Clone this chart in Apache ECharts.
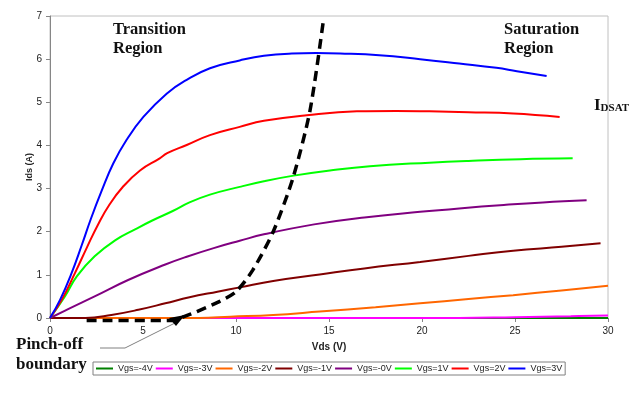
<!DOCTYPE html>
<html>
<head>
<meta charset="utf-8">
<script src="https://cdn.jsdelivr.net/npm/echarts@6/dist/echarts.min.js"></script>
<style>html,body{margin:0;padding:0;background:#fff}#c{width:640px;height:394px}</style>
</head>
<body>
<div id="c"></div>
<script>
// ---- data (Vds [V], Ids [A]) ----
const seriesNames = ['Vgs=-4V','Vgs=-3V','Vgs=-2V','Vgs=-1V','Vgs=-0V','Vgs=1V','Vgs=2V','Vgs=3V'];
const vgsM4 = [[0,0],[30,0]];
const vgsM3 = [[0,0],[22,0],[25,0.02],[28,0.04],[30,0.06]];
const vgsM2 = [[0,0],[8,0],[9.7,0.03],[12,0.07],[14.5,0.15],[17.5,0.25],[19.9,0.34],[22.5,0.44],[24.9,0.53],[27.5,0.64],[30,0.75]];
const vgsM1 = [[0,0],[1.9,0],[3.3,0.07],[4.75,0.19],[6.2,0.34],[7.5,0.48],[9.0,0.61],[10.2,0.71],[12,0.86],[14.5,1.01],[16.9,1.15],[19.9,1.3],[22.5,1.44],[24.9,1.56],[27.5,1.65],[29.6,1.73]];
const vgs0 = [[0,0],[1.0,0.21],[2.4,0.5],[4.2,0.88],[6.2,1.24],[7.35,1.42],[8.8,1.62],[10.2,1.79],[11.5,1.94],[14.2,2.17],[16.9,2.33],[19.9,2.46],[22,2.54],[24.4,2.62],[26.5,2.68],[28.85,2.73]];
const vgs1 = [[0,0],[0.8,0.5],[1.45,0.97],[2.4,1.43],[3.5,1.8],[4.6,2.06],[5.5,2.26],[6.6,2.48],[7.5,2.68],[8.6,2.86],[10.2,3.04],[11.5,3.17],[13.1,3.3],[15.05,3.42],[17.2,3.52],[20.4,3.6],[22.5,3.64],[25.3,3.68],[28.1,3.7]];
const vgs2 = [[0,0],[0.63,0.42],[1.34,1.04],[2.0,1.65],[2.6,2.18],[3.2,2.63],[3.9,3.03],[4.84,3.42],[5.9,3.7],[6.3,3.82],[7.35,4.01],[8.6,4.24],[10.2,4.43],[11.5,4.57],[13.8,4.7],[16.5,4.79],[18.6,4.8],[20.4,4.79],[22.5,4.77],[24.9,4.74],[27.4,4.66]];
const vgs3 = [[0,0],[0.54,0.42],[1.16,1.04],[1.7,1.68],[2.2,2.3],[2.78,2.95],[3.4,3.58],[4.12,4.13],[5.02,4.66],[6.27,5.2],[7.35,5.52],[8.6,5.79],[10.2,5.97],[11.5,6.08],[13,6.13],[14.3,6.14],[15.6,6.13],[17.7,6.09],[19.9,6.0],[22,5.9],[24,5.8],[25.1,5.72],[26.7,5.61]];
const pinchOff = [[1.97,-0.06],[6.7,-0.06],[7.2,0.03],[7.9,0.15],[9.1,0.38],[10.0,0.61],[10.9,1.11],[12.0,2.0],[13.08,3.27],[13.98,4.81],[14.7,6.9]];
const xTicks = {min:0, max:30, interval:5};
const yTicks = {min:0, max:7, interval:1};

const seriesData = [vgsM4, vgsM3, vgsM2, vgsM1, vgs0, vgs1, vgs2, vgs3];
const colors = ['#008000','#ff00ff','#ff6600','#800000','#800080','#00ff00','#ff0000','#0000ff'];

const chart = echarts.init(document.getElementById('c'), null, {renderer:'canvas'});
const series = seriesNames.map((n,i)=>({
  name:n, type:'line', data:seriesData[i], symbol:'none', smooth:0.45,
  lineStyle:{color:colors[i], width:2}, itemStyle:{color:colors[i]}, z:2+i, animation:false
}));
series.push({
  name:'pinch', type:'line', data:pinchOff, symbol:'none', smooth:0.25, clip:false,
  lineStyle:{color:'#000', width:3.5, type:[10,6]}, z:20, animation:false
});

const serif = '"Liberation Serif","DejaVu Serif",serif';
chart.setOption({
  animation:false,
  grid:{left:50, right:32, top:16, bottom:76, show:true, borderColor:'#c0c0c0', borderWidth:1, containLabel:false},
  xAxis:{type:'value', min:xTicks.min, max:xTicks.max, interval:xTicks.interval,
    name:'Vds (V)', nameLocation:'middle', nameGap:24, nameMoveOverlap:false,
    nameTextStyle:{fontFamily:'"Liberation Sans",Arial', fontWeight:'bold', fontSize:10, color:'#222'},
    axisLine:{show:true, lineStyle:{color:'#868686', width:1}},
    axisTick:{show:true, length:4, lineStyle:{color:'#868686'}},
    axisLabel:{fontFamily:'"Liberation Sans",Arial', fontSize:10, color:'#222', margin:8},
    splitLine:{show:false}},
  yAxis:{type:'value', min:yTicks.min, max:yTicks.max, interval:yTicks.interval,
    name:'Ids (A)', nameLocation:'middle', nameGap:16, nameRotate:90, nameMoveOverlap:false,
    nameTextStyle:{fontFamily:'"Liberation Sans",Arial', fontWeight:'bold', fontSize:9, color:'#222'},
    axisLine:{show:true, lineStyle:{color:'#868686', width:1}},
    axisTick:{show:true, length:4, lineStyle:{color:'#868686'}},
    axisLabel:{fontFamily:'"Liberation Sans",Arial', fontSize:10, color:'#222', margin:8},
    splitLine:{show:false}},
  legend:{data:seriesNames, left:93, top:362, orient:'horizontal', icon:'rect',
    itemWidth:17, itemHeight:2, itemGap:3, padding:[2,3],
    borderColor:'#808080', borderWidth:1,
    textStyle:{fontFamily:'"Liberation Sans",Arial', fontSize:9, color:'#222'}},
  series:series,
  graphic:[
    {type:'text', left:113, top:20, style:{text:'Transition\nRegion', font:'bold 16.5px '+serif, fill:'#111', lineHeight:19}},
    {type:'text', left:504, top:20, style:{text:'Saturation\nRegion', font:'bold 16.5px '+serif, fill:'#111', lineHeight:19}},
    {type:'text', left:16, top:335, style:{text:'Pinch-off\nboundary', font:'bold 17px '+serif, fill:'#111', lineHeight:20}},
    {type:'text', left:594, top:97, style:{text:'{a|I}{b|DSAT}', fill:'#111',
      rich:{a:{font:'bold 17px '+serif, fill:'#111', verticalAlign:'bottom'}, b:{font:'bold 11px '+serif, fill:'#111', padding:[6,0,0,0], verticalAlign:'bottom'}}}},
    {type:'polyline', shape:{points:[[100,348],[125,348],[175,323]]}, style:{stroke:'#808080', lineWidth:1, fill:null}, z:30},
    {type:'polygon', shape:{points:[[169,318],[185,315],[176,326]]}, style:{fill:'#000'}, z:31}
  ]
});
</script>
</body>
</html>
